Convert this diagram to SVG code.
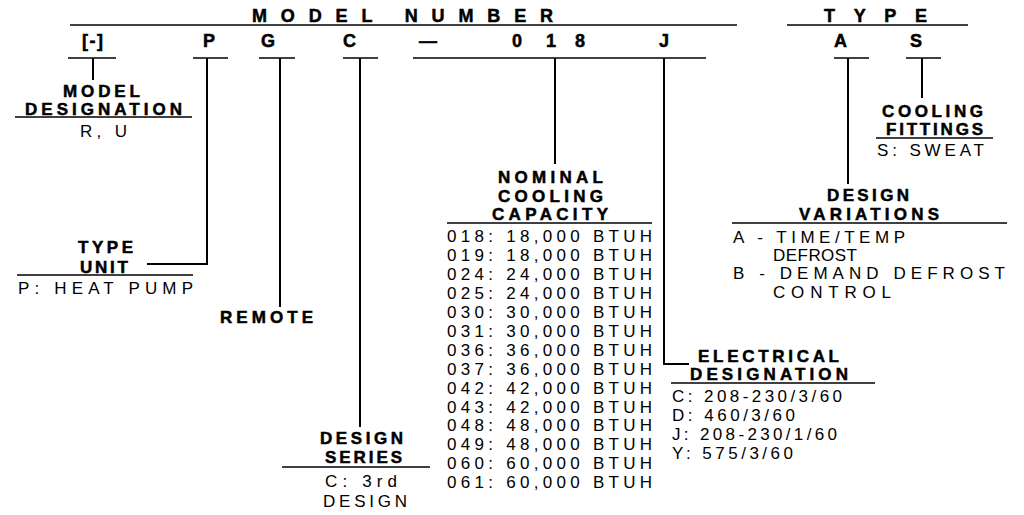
<svg xmlns="http://www.w3.org/2000/svg" width="1024" height="515" viewBox="0 0 1024 515">
<style>
text{font-family:"Liberation Sans",Arial,Helvetica,sans-serif;font-size:17px;fill:#000}
.b{font-weight:bold;stroke:#000;stroke-width:0.5}
.r{font-weight:normal}
.h{font-size:18px}
.ln{stroke:#000;stroke-width:1.5;fill:none}
.vl{stroke:#000;stroke-width:2;fill:none}
</style>
<rect width="1024" height="515" fill="#fff"/>
<g id="header">
<text class="b h" x="252" y="22" textLength="301" lengthAdjust="spacing">MODEL NUMBER</text>
<line class="ln" x1="70" y1="25" x2="737" y2="25"/>
<text class="b h" x="824" y="22" textLength="103" lengthAdjust="spacing">TYPE</text>
<line class="ln" x1="787" y1="25" x2="968" y2="25"/>
</g>
<g id="code">
<text class="b h" x="82" y="47" textLength="21" lengthAdjust="spacing">[-]</text>
<line class="ln" x1="68" y1="58" x2="116" y2="58"/>
<text class="b h" x="203" y="47">P</text>
<line class="ln" x1="193" y1="58" x2="228" y2="58"/>
<text class="b h" x="261" y="47">G</text>
<line class="ln" x1="259" y1="58" x2="295" y2="58"/>
<text class="b h" x="343" y="47">C</text>
<line class="ln" x1="343" y1="58" x2="378" y2="58"/>
<text class="b h" x="419" y="47">—</text>
<text class="b h" x="512" y="47">0</text>
<text class="b h" x="546" y="47">1</text>
<text class="b h" x="575" y="47">8</text>
<text class="b h" x="659" y="47">J</text>
<line class="ln" x1="413" y1="58" x2="706" y2="58"/>
<text class="b h" x="834" y="47">A</text>
<line class="ln" x1="834" y1="58" x2="869" y2="58"/>
<text class="b h" x="910" y="47">S</text>
<line class="ln" x1="906" y1="58" x2="941" y2="58"/>
</g>
<g id="connectors">
<polyline class="vl" points="93,58 93,80"/>
<polyline class="vl" points="207,58 207,264 147,264"/>
<polyline class="vl" points="280,58 280,307"/>
<polyline class="vl" points="360,58 360,427"/>
<polyline class="vl" points="555,58 555,164"/>
<polyline class="vl" points="664,58 664,364 689,364"/>
<polyline class="vl" points="848,58 848,184"/>
<polyline class="vl" points="922,58 922,98"/>
</g>
<g id="model-designation">
<text class="b" x="63" y="97" textLength="77" lengthAdjust="spacing">MODEL</text>
<text class="b" x="25" y="115" textLength="157" lengthAdjust="spacing">DESIGNATION</text>
<line class="ln" x1="15" y1="117" x2="192" y2="117"/>
<text class="r" x="80" y="137" textLength="47" lengthAdjust="spacing">R, U</text>
</g>
<g id="type-unit">
<text class="b" x="78" y="253" textLength="55" lengthAdjust="spacing">TYPE</text>
<text class="b" x="80" y="273" textLength="48" lengthAdjust="spacing">UNIT</text>
<line class="ln" x1="17" y1="275" x2="193" y2="275"/>
<text class="r" x="18" y="294" textLength="175" lengthAdjust="spacing">P: HEAT PUMP</text>
</g>
<g id="remote">
<text class="b" x="220" y="323" textLength="93" lengthAdjust="spacing">REMOTE</text>
</g>
<g id="design-series">
<text class="b" x="320" y="444" textLength="83" lengthAdjust="spacing">DESIGN</text>
<text class="b" x="325" y="463" textLength="77" lengthAdjust="spacing">SERIES</text>
<line class="ln" x1="282" y1="467" x2="430" y2="467"/>
<text class="r" x="325" y="487" textLength="72" lengthAdjust="spacing">C: 3rd</text>
<text class="r" x="323" y="507" textLength="84" lengthAdjust="spacing">DESIGN</text>
</g>
<g id="nominal-cooling-capacity">
<text class="b" x="498" y="183" textLength="105" lengthAdjust="spacing">NOMINAL</text>
<text class="b" x="498" y="202" textLength="105" lengthAdjust="spacing">COOLING</text>
<text class="b" x="492" y="220" textLength="116" lengthAdjust="spacing">CAPACITY</text>
<line class="ln" x1="447" y1="223" x2="652" y2="223"/>
<text class="r" x="447" y="242" textLength="205" lengthAdjust="spacing">018: 18,000 BTUH</text>
<text class="r" x="447" y="261" textLength="205" lengthAdjust="spacing">019: 18,000 BTUH</text>
<text class="r" x="447" y="280" textLength="205" lengthAdjust="spacing">024: 24,000 BTUH</text>
<text class="r" x="447" y="299" textLength="205" lengthAdjust="spacing">025: 24,000 BTUH</text>
<text class="r" x="447" y="318" textLength="205" lengthAdjust="spacing">030: 30,000 BTUH</text>
<text class="r" x="447" y="337" textLength="205" lengthAdjust="spacing">031: 30,000 BTUH</text>
<text class="r" x="447" y="356" textLength="205" lengthAdjust="spacing">036: 36,000 BTUH</text>
<text class="r" x="447" y="375" textLength="205" lengthAdjust="spacing">037: 36,000 BTUH</text>
<text class="r" x="447" y="394" textLength="205" lengthAdjust="spacing">042: 42,000 BTUH</text>
<text class="r" x="447" y="413" textLength="205" lengthAdjust="spacing">043: 42,000 BTUH</text>
<text class="r" x="447" y="431" textLength="205" lengthAdjust="spacing">048: 48,000 BTUH</text>
<text class="r" x="447" y="450" textLength="205" lengthAdjust="spacing">049: 48,000 BTUH</text>
<text class="r" x="447" y="469" textLength="205" lengthAdjust="spacing">060: 60,000 BTUH</text>
<text class="r" x="447" y="488" textLength="205" lengthAdjust="spacing">061: 60,000 BTUH</text>
</g>
<g id="electrical-designation">
<text class="b" x="698" y="362" textLength="141" lengthAdjust="spacing">ELECTRICAL</text>
<text class="b" x="690" y="380" textLength="158" lengthAdjust="spacing">DESIGNATION</text>
<line class="ln" x1="671" y1="383" x2="875" y2="383"/>
<text class="r" x="672" y="402" textLength="170" lengthAdjust="spacing">C: 208-230/3/60</text>
<text class="r" x="672" y="421" textLength="123" lengthAdjust="spacing">D: 460/3/60</text>
<text class="r" x="672" y="440" textLength="165" lengthAdjust="spacing">J: 208-230/1/60</text>
<text class="r" x="672" y="459" textLength="121" lengthAdjust="spacing">Y: 575/3/60</text>
</g>
<g id="cooling-fittings">
<text class="b" x="882" y="117" textLength="101" lengthAdjust="spacing">COOLING</text>
<text class="b" x="886" y="135" textLength="97" lengthAdjust="spacing">FITTINGS</text>
<line class="ln" x1="876" y1="138" x2="993" y2="138"/>
<text class="r" x="877" y="156" textLength="107" lengthAdjust="spacing">S: SWEAT</text>
</g>
<g id="design-variations">
<text class="b" x="827" y="201" textLength="82" lengthAdjust="spacing">DESIGN</text>
<text class="b" x="799" y="220" textLength="140" lengthAdjust="spacing">VARIATIONS</text>
<line class="ln" x1="732" y1="223" x2="1007" y2="223"/>
<text class="r" x="733" y="243" textLength="172" lengthAdjust="spacing">A - TIME/TEMP</text>
<text class="r" x="773" y="261" textLength="84" lengthAdjust="spacing">DEFROST</text>
<text class="r" x="733" y="279" textLength="272" lengthAdjust="spacing">B - DEMAND DEFROST</text>
<text class="r" x="773" y="298" textLength="118" lengthAdjust="spacing">CONTROL</text>
</g>
</svg>
